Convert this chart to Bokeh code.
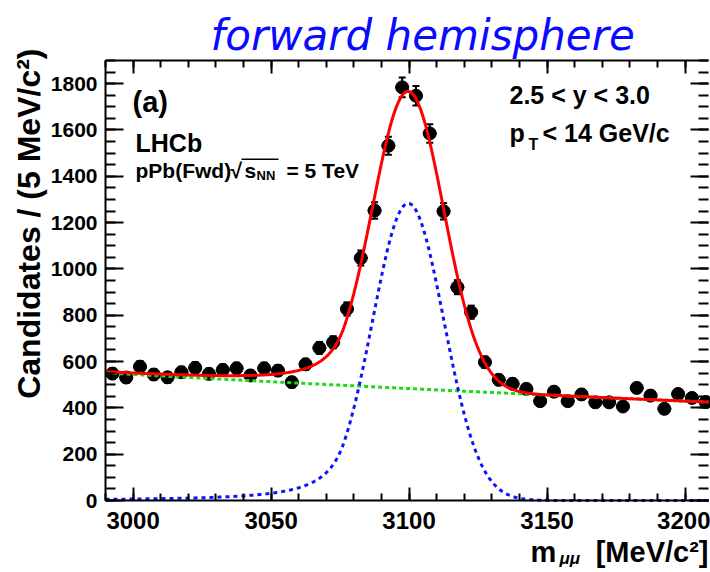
import numpy as np
from bokeh.plotting import figure
from bokeh.models import (Range1d, LinearAxis, Label, FixedTicker,
                          ColumnDataSource, Whisker, TeeHead, BoxAnnotation)
from bokeh.embed import file_html
from bokeh.resources import INLINE

# dimuon invariant-mass bins (MeV/c^2), 5 MeV wide
mass_bins = [2992.5, 2997.5, 3002.5, 3007.5, 3012.5, 3017.5, 3022.5, 3027.5,
             3032.5, 3037.5, 3042.5, 3047.5, 3052.5, 3057.5, 3062.5, 3067.5,
             3072.5, 3077.5, 3082.5, 3087.5, 3092.5, 3097.5, 3102.5, 3107.5,
             3112.5, 3117.5, 3122.5, 3127.5, 3132.5, 3137.5, 3142.5, 3147.5,
             3152.5, 3157.5, 3162.5, 3167.5, 3172.5, 3177.5, 3182.5, 3187.5,
             3192.5, 3197.5, 3202.5, 3207.5]
candidates = [548, 531, 578, 544, 532, 554, 573, 547, 564, 571, 540, 571,
              561, 511, 588, 659, 683, 827, 1047, 1252, 1532, 1784, 1748,
              1585, 1249, 921, 813, 597, 521, 504, 482, 429, 470, 429, 458,
              424, 424, 406, 486, 453, 396, 460, 443, 425]
bin_width = 5.0

# fit model parameters: Crystal Ball signal + exponential background
mass_lo, mass_hi = 2990.0, 3208.5
count_lo, count_hi = 0.0, 1900.0
sig_mean = 3099.7
sig_sigma = 12.9
sig_alpha = 1.8
sig_n = 2.0
sig_peak = 1283.0
bkg_at_lo = 551.0
bkg_slope = 0.00119

# axis ticks
x_major = [3000, 3050, 3100, 3150, 3200]
x_minor = list(range(2990, 3209, 10))
y_major = [0, 200, 400, 600, 800, 1000, 1200, 1400, 1600, 1800]
y_minor = list(range(0, 1901, 50))

# page geometry (pixels): the histogram box inside a 710 x 572 canvas
W, H = 710, 572
BOX_L, BOX_R, BOX_T, BOX_B = 105, 708, 60, 500


def crystal_ball(m, mu, sigma, alpha, n):
    t = (m - mu) / sigma
    a = abs(alpha)
    amp = (n / a) ** n * np.exp(-0.5 * a * a)
    b = n / a - a
    out = np.exp(-0.5 * t * t)
    tail = t < -a
    out[tail] = amp * (b - t[tail]) ** (-n)
    return out


m = np.linspace(mass_lo, mass_hi, 900)
signal = sig_peak * crystal_ball(m, sig_mean, sig_sigma, sig_alpha, sig_n)
background = bkg_at_lo * np.exp(-bkg_slope * (m - mass_lo))
total = signal + background

counts = np.array(candidates, dtype=float)
errs = np.sqrt(counts)
centres = np.array(mass_bins)
data = ColumnDataSource(dict(
    x=centres, y=counts, lo=counts - errs, hi=counts + errs,
    xl=centres - bin_width / 2, xr=centres + bin_width / 2))

# the frame fills the canvas; the axes sit on the histogram box edges
xpp = (mass_hi - mass_lo) / (BOX_R - BOX_L)
ypp = (count_hi - count_lo) / (BOX_B - BOX_T)
x_range = Range1d(mass_lo - BOX_L * xpp, mass_hi + (W - BOX_R) * xpp)
y_range = Range1d(count_lo - (H - BOX_B) * ypp, count_hi + BOX_T * ypp)

p = figure(width=W, height=H, x_range=x_range, y_range=y_range,
           output_backend="svg", toolbar_location=None,
           min_border_left=0, min_border_right=0, min_border_top=0,
           min_border_bottom=0, x_axis_location=None, y_axis_location=None)
p.title.visible = False
p.grid.visible = False
p.outline_line_color = None
p.background_fill_color = "white"
p.border_fill_color = "white"

FONT = "Liberation Sans"


def make_axis(major, minor, loc, bounds, tick_in, minor_in, label_size,
              standoff, show_labels=True, show_line=True):
    ax = LinearAxis(ticker=FixedTicker(ticks=major, minor_ticks=minor),
                    fixed_location=loc, bounds=bounds,
                    major_tick_in=tick_in, major_tick_out=0,
                    minor_tick_in=minor_in, minor_tick_out=0,
                    axis_line_width=2, major_tick_line_width=2,
                    minor_tick_line_width=2)
    if not show_line:
        ax.axis_line_color = None
    if show_labels:
        ax.major_label_text_font = FONT
        ax.major_label_text_font_style = "bold"
        ax.major_label_text_font_size = label_size
        ax.major_label_text_color = "black"
        ax.major_label_standoff = standoff
    else:
        ax.major_label_text_color = None
        ax.major_label_text_font_size = "0px"
    return ax


p.add_layout(make_axis(x_major, x_minor, count_lo, (mass_lo, mass_hi),
                       13, 7, "24px", 11), "below")
p.add_layout(make_axis(y_major, y_minor, mass_lo, (count_lo, count_hi),
                       18, 10, "21px", 8), "left")
p.add_layout(make_axis(x_major, x_minor, count_hi, (mass_lo, mass_hi),
                       13, 7, None, 0, show_labels=False), "above")
p.add_layout(make_axis(y_major, y_minor, mass_hi, (count_lo, count_hi),
                       18, 10, None, 0, show_labels=False, show_line=False),
             "right")

# data points with statistical errors
p.segment("xl", "y", "xr", "y", source=data, line_color="black", line_width=2)
p.add_layout(Whisker(source=data, base="x", lower="lo", upper="hi",
                     line_color="black", line_width=2,
                     upper_head=TeeHead(size=7, line_width=2, line_color="black"),
                     lower_head=TeeHead(size=7, line_width=2, line_color="black")))
p.scatter("x", "y", source=data, size=13, color="black")

# fit components
p.line(m, background, line_color="#19dd19", line_width=3, line_dash="4 3")
p.line(m, signal, line_color="#1010ff", line_width=3, line_dash="4 4")
p.line(m, total, line_color="#ff0000", line_width=3)

# Label's alphabetic anchor sits about 0.29 em above the drawn baseline
BASE_SHIFT = 0.29


def add_text(text, x, y, size, style="bold", font=FONT, color="black",
             align="left", vertical=False):
    # x, y: canvas pixels from the top-left corner, y (or x) on the baseline
    shift = BASE_SHIFT * size
    if vertical:
        x, angle = x - shift, np.pi / 2
    else:
        y, angle = y - shift, 0.0
    p.add_layout(Label(x=x, y=H - y, x_units="screen", y_units="screen",
                       text=text, text_font=font, text_font_size=f"{size}px",
                       text_font_style=style, text_color=color,
                       text_align=align, text_baseline="alphabetic",
                       angle=angle))


# header
add_text("forward hemisphere", 210, 47, 42, style="italic",
         font="DejaVu Sans", color="#0a0aff")

# axis titles
add_text("Candidates / (5 MeV/c\u00b2)", 38, 48, 32, align="right",
         vertical=True)
add_text("m", 530, 560, 29)
add_text("\u03bc\u03bc", 559, 563, 17, style="bold italic")
add_text("[MeV/c\u00b2]", 708, 560, 29, align="right")

# annotations inside the box
add_text("(a)", 132, 110, 29)
add_text("LHCb", 135, 150, 25)
add_text("pPb(Fwd)", 135, 176, 21)
add_text("\u221a", 230, 176, 21)
add_text("s", 244, 176, 21)
add_text("NN", 256, 179, 13)
add_text("= 5 TeV", 286, 176, 21)
p.add_layout(BoxAnnotation(left=241, right=278, bottom=H - 159.5, top=H - 158,
                           left_units="screen", right_units="screen",
                           bottom_units="screen", top_units="screen",
                           fill_color="black", fill_alpha=1.0,
                           line_color=None))
add_text("2.5 < y < 3.0", 509, 102, 25)
add_text("p", 509, 140, 25)
add_text("T", 528, 149, 16)
add_text("< 14 GeV/c", 542, 140, 25)

open("out.html", "w").write(file_html(p, INLINE))
